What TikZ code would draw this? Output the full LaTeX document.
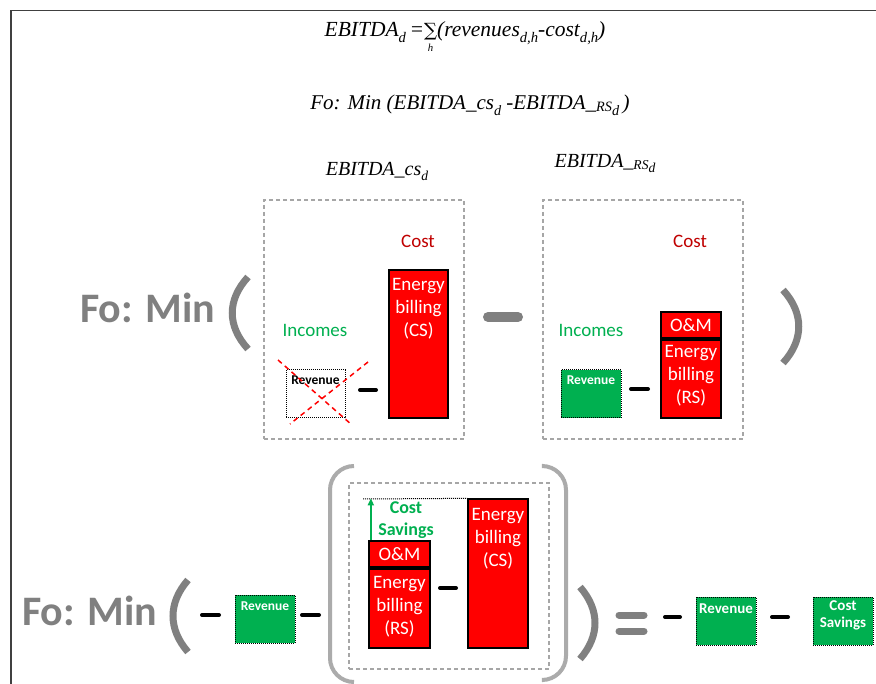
\documentclass[tikz,border=0pt]{standalone}
\usepackage{fontspec}
\usepackage{graphicx}
\newfontfamily\calfont{Carlito}
\newfontfamily\serfont{Liberation Serif}
\newfontfamily\symfont{DejaVu Serif}
\usetikzlibrary{arrows.meta}
\definecolor{redfill}{HTML}{FF0000}
\definecolor{costred}{HTML}{C00000}
\definecolor{incgreen}{HTML}{00B050}
\definecolor{fogray}{HTML}{808080}
\definecolor{dashgray}{HTML}{A6A6A6}
\definecolor{brgray}{HTML}{ABABAB}
\definecolor{framecol}{HTML}{404040}
\newcommand\lsub[1]{\raisebox{-0.25em}{\scalebox{0.68}{#1}}}
\newcommand\rssub{\raisebox{-0.08em}{\scalebox{0.68}{RS}}}
\newcommand\sumh{\begin{tabular}[t]{@{}c@{}}{\symfont\upshape\scalebox{0.85}{∑}}\\[-9pt]\scalebox{0.5}{h}\end{tabular}}
\begin{document}
\begin{tikzpicture}[x=1pt,y=-1pt,
  dashbox/.style={draw=dashgray, line width=1.3pt, dash pattern=on 4pt off 3pt, inner sep=0pt},
  redbox/.style={draw=black, fill=redfill, line width=1.3pt, inner sep=0pt},
  greenbox/.style={draw=black, fill=incgreen, line width=1pt, densely dotted, inner sep=0pt},
  crossbox/.style={draw=black, fill=white, line width=1pt, densely dotted, inner sep=0pt},
  wtxt/.style={text=white, font=\calfont\fontsize{19}{23}\selectfont, align=center, inner sep=0pt},
  revtxt/.style={font=\calfont\bfseries\fontsize{13.5}{16}\selectfont, inner sep=0pt, align=center},
  costlbl/.style={text=costred, font=\calfont\fontsize{19}{23}\selectfont, inner sep=0pt},
  inclbl/.style={text=incgreen, font=\calfont\fontsize{19}{23}\selectfont, inner sep=0pt},
  fotxt/.style={text=fogray, font=\calfont\bfseries\fontsize{42}{48}\selectfont, inner sep=0pt},
  formula/.style={font=\serfont\itshape\fontsize{21}{24}\selectfont, inner sep=0pt},
  paren/.style={draw=fogray, line width=7pt},
  bigminus/.style={draw=fogray, line width=10pt, line cap=round},
  eqbar/.style={draw=fogray, line width=7pt, line cap=round},
  minus/.style={draw=black, line width=4pt, line cap=round},
  bracket/.style={draw=brgray, line width=4pt, rounded corners=24pt},
  crossline/.style={draw=red, line width=1.5pt, dash pattern=on 5pt off 4pt}
]
\useasboundingbox (0,0) rectangle (876,684);
\fill[white] (0,0) rectangle (876,684);
% frame
\draw[framecol, line width=1.3pt] (11,690) -- (11,10.5) -- (880,10.5);

% formulas
\node[formula, anchor=base, font=\serfont\itshape\fontsize{21.5}{24}\selectfont] (f1) at (465,37) {EBITDA\lsub{d}\,=\sumh(revenues\lsub{d,h}-cost\lsub{d,h})};
\node[formula, anchor=base] (f2) at (470,110) {Fo: Min (EBITDA\_cs\lsub{d} -EBITDA\_\rssub\lsub{d}\,)};
\node[formula, anchor=base, font=\serfont\itshape\fontsize{20}{24}\selectfont] (lcs) at (377,176) {EBITDA\_cs\lsub{d}};
\node[formula, anchor=base, font=\serfont\itshape\fontsize{20}{24}\selectfont] (lrs) at (605,168) {EBITDA\_\rssub\lsub{d}};

% ---------- Row 1 ----------
\node[fotxt, anchor=base west] (fo1) at (80,323) {Fo: Min};
\draw[paren] (248,277) .. controls (227,300) and (227,326) .. (248,349);
\draw[paren] (783,290) .. controls (804,313) and (804,340) .. (783,363);

\node[dashbox, minimum width=200pt, minimum height=239pt] (boxL) at (364,319.5) {};
\node[dashbox, minimum width=200pt, minimum height=239pt] (boxR) at (643,319.5) {};

\node[costlbl] (costL) at (418,241) {Cost};
\node[costlbl] (costR) at (690,241) {Cost};
\node[inclbl] (incL) at (315,330) {Incomes};
\node[inclbl] (incR) at (591,330) {Incomes};

\node[redbox, minimum width=59pt, minimum height=148pt] (cs1) at (418.5,344) {};
\node[wtxt, anchor=north] (cs1t) at ([yshift=-9pt]cs1.north) {Energy\\billing\\(CS)};

\node[crossbox, minimum width=59pt, minimum height=48pt] (rev1) at (315.5,394) {};
\node[revtxt, text=black] (rev1t) at ([yshift=-11pt]rev1.north) {Revenue};
\draw[crossline] (278,360) -- (352,425);
\draw[crossline] (368,362) -- (290,424);
\draw[minus] (360,390) -- (376,390);

\draw[bigminus] (488,317) -- (518,317);

\node[greenbox, minimum width=60pt, minimum height=48pt] (rev2) at (591,394) {};
\node[revtxt, text=white] (rev2t) at ([yshift=-11pt]rev2.north) {Revenue};
\draw[minus] (631,389) -- (648,389);
\node[redbox, minimum width=60pt, minimum height=26pt] (om1) at (691,325) {};
\node[wtxt] (om1t) at (om1.center) {O\&M};
\node[redbox, minimum width=60pt, minimum height=78pt] (rs1) at (691,379) {};
\node[wtxt, anchor=north] (rs1t) at ([yshift=-6pt]rs1.north) {Energy\\billing\\(RS)};

% ---------- Row 2 ----------
\node[fotxt, anchor=base west] (fo2) at (22,625) {Fo: Min};
\draw[paren] (188,580) .. controls (168,603) and (168,629) .. (188,652);
\draw[minus] (202,615) -- (219,615);
\node[greenbox, minimum width=60pt, minimum height=48pt] (rev3) at (265,619) {};
\node[revtxt, text=white] (rev3t) at ([yshift=-12pt]rev3.north) {Revenue};
\draw[minus] (302,615) -- (319,615);

\draw[bracket] (354,466) -- (330,466) -- (330,682) -- (354,682);
\draw[bracket] (543,466) -- (566,466) -- (566,680) -- (543,680);
\node[dashbox, minimum width=200pt, minimum height=186pt] (boxB) at (449,576) {};

\node[redbox, minimum width=61pt, minimum height=26pt] (om2) at (399.5,554) {};
\node[wtxt] (om2t) at (om2.center) {O\&M};
\node[redbox, minimum width=61pt, minimum height=79pt] (rs2) at (399.5,608.5) {};
\node[wtxt, anchor=north] (rs2t) at ([yshift=-8pt]rs2.north) {Energy\\billing\\(RS)};
\draw[minus] (440,588) -- (456,588);
\node[redbox, minimum width=60pt, minimum height=149pt] (cs2) at (498,573.5) {};
\node[wtxt, anchor=north] (cs2t) at ([yshift=-10pt]cs2.north) {Energy\\billing\\(CS)};

\coordinate (dl) at (363,499);
\draw[black, line width=1pt, densely dotted] (dl) -- (cs2.north west);
\draw[incgreen, line width=1.8pt, -{Triangle[length=7pt,width=6pt]}] ([xshift=2.5pt]om2.north west) -- ([xshift=2.5pt]om2.north west |- cs2.north);
\node[text=incgreen, font=\calfont\bfseries\fontsize{18}{22}\selectfont, align=center, inner sep=0pt] (savt) at (406,520) {Cost\\Savings};

\draw[paren] (580,587) .. controls (600,610) and (600,636) .. (580,659);
\draw[eqbar] (619,615) -- (644,615);
\draw[eqbar] (619,631) -- (644,631);
\draw[minus] (665,617) -- (680,617);
\node[greenbox, minimum width=60pt, minimum height=48pt] (rev4) at (726,621) {};
\node[revtxt, text=white, font=\calfont\bfseries\fontsize{15}{17}\selectfont] (rev4t) at ([yshift=-12pt]rev4.north) {Revenue};
\draw[minus] (772,617) -- (788,617);
\node[greenbox, minimum width=60pt, minimum height=48pt] (sav) at (843,621) {};
\node[revtxt, text=white, font=\calfont\bfseries\fontsize{15}{17}\selectfont] (savt2) at ([yshift=-18.5pt]sav.north) {Cost\\Savings};
\end{tikzpicture}
\end{document}
